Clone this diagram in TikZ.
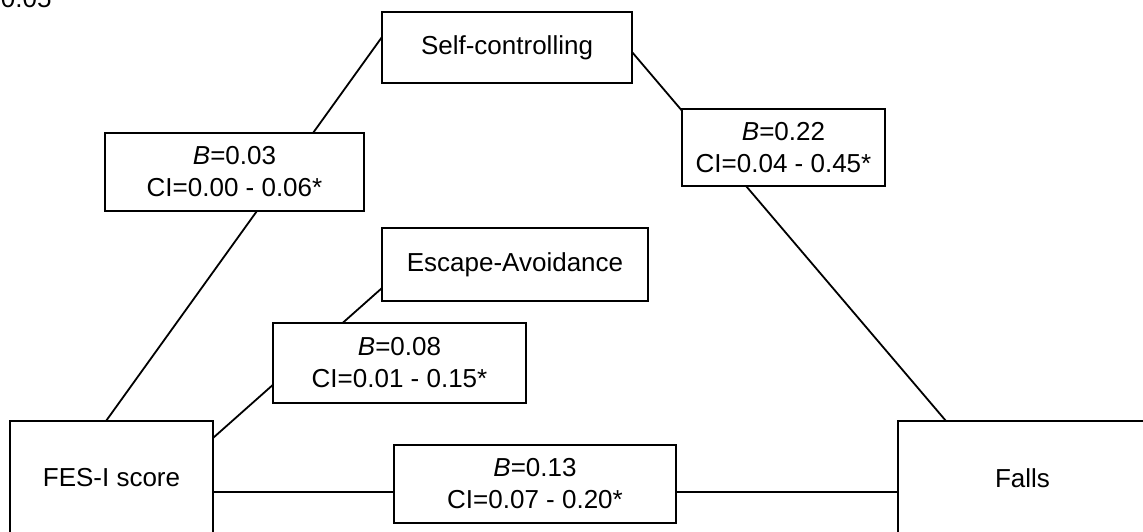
\documentclass[tikz,border=0pt]{standalone}
\usepackage{fontspec}
\setmainfont{Liberation Sans}
\usetikzlibrary{backgrounds}
\begin{document}
\begin{tikzpicture}[x=0.5pt,y=-0.5pt,
  box/.style={draw=black,line width=1pt,fill=white,inner sep=0pt,outer sep=0pt,align=center,
    font=\fontsize{13}{16}\selectfont},
  link/.style={draw=black,line width=0.9pt}]
\useasboundingbox (0,0) rectangle (1143,531);
\clip (0,0) rectangle (1143,531);
\node[anchor=base east,font=\fontsize{13}{16}\selectfont,inner sep=0pt] (sig) at (52,7) {0.05};
\node[box,minimum width=125pt,minimum height=35.5pt] (self) at (507,47.5) {Self-controlling};
\node[box,minimum width=133pt,minimum height=36.5pt] (esc) at (515,264.5) {Escape-Avoidance};
\node[box,minimum width=101.5pt,minimum height=57pt] (fes) at (111.5,478) {FES-I score};
\node[box,minimum width=124.5pt,minimum height=57pt] (falls) at (1022.5,478) {Falls};
\node[box,minimum width=129.5pt,minimum height=39pt] (b1) at (234.5,172) {\textit{B}=0.03\\CI=0.00 - 0.06*};
\node[box,minimum width=101.5pt,minimum height=38.5pt] (b2) at (783.5,147.5) {\textit{B}=0.22\\CI=0.04 - 0.45*};
\node[box,minimum width=126.5pt,minimum height=40pt] (b3) at (399.5,363) {\textit{B}=0.08\\CI=0.01 - 0.15*};
\node[box,minimum width=141pt,minimum height=39pt] (b4) at (535,484) {\textit{B}=0.13\\CI=0.07 - 0.20*};
\begin{pgfonlayer}{background}
\draw[link] ([xshift=48pt]fes.north west) -- ([yshift=-12.5pt]self.north west);
\draw[link] ([yshift=-20pt]self.north east) -- ([xshift=24pt]falls.north west);
\draw[link] ([yshift=-8.5pt]fes.north east) -- ([yshift=-30pt]esc.north west);
\draw[link] ([yshift=-7pt]fes.east) -- ([yshift=-7pt]falls.west);
\end{pgfonlayer}
\end{tikzpicture}
\end{document}
